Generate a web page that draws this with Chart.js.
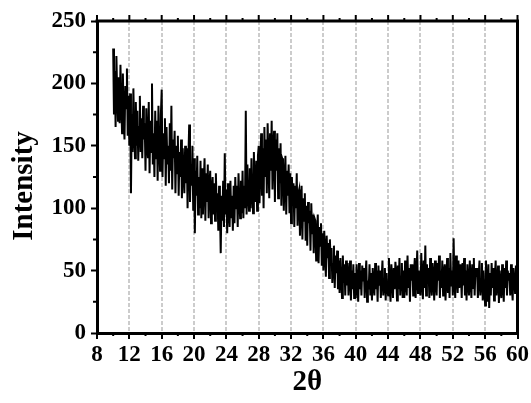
<!DOCTYPE html>
<html>
<head>
<meta charset="utf-8">
<script src="https://cdn.jsdelivr.net/npm/chart.js@4.4.1/dist/chart.umd.min.js"></script>
<style>
  html, body { margin: 0; padding: 0; background: #ffffff; }
  #wrap { width: 531px; height: 403px; }
</style>
</head>
<body>
<div id="wrap"><canvas id="c" width="531" height="403"></canvas></div>
<script>
// ---- Data ----
const angleStart = 10;      // first 2θ value of the scan
const angleStep = 0.1;      // scan step in degrees
const intensity = [
  228, 175, 210, 165, 222, 190, 170, 205, 168, 215,   // 10
  185, 160, 208, 172, 155, 198, 180, 212, 158, 190,   // 11
  150, 192, 112, 175, 145, 196, 160, 140, 185, 150,   // 12
  178, 138, 165, 190, 145, 172, 140, 182, 155, 168,   // 13
  130, 180, 150, 140, 185, 128, 170, 145, 200, 135,   // 14
  160, 125, 178, 140, 170, 122, 182, 150, 130, 175,   // 15
  195, 125, 160, 140, 172, 118, 165, 135, 150, 120,   // 16
  168, 130, 182, 115, 155, 140, 162, 112, 150, 128,   // 17
  158, 110, 145, 125, 155, 108, 148, 130, 112, 150,   // 18
  120, 148, 100, 140, 167, 105, 135, 118, 150, 98,    // 19
  140, 80, 130, 110, 142, 95, 125, 100, 138, 92,      // 20
  132, 95, 120, 140, 90, 128, 105, 135, 92, 118,      // 21
  130, 88, 115, 125, 95, 120, 90, 128, 100, 112,      // 22
  82, 118, 100, 64, 110, 90, 122, 85, 144, 95,        // 23
  115, 80, 120, 98, 85, 122, 92, 110, 82, 118,        // 24
  88, 125, 100, 118, 85, 128, 105, 92, 122, 96,       // 25
  130, 92, 118, 100, 178, 95, 135, 110, 98, 132,      // 26
  100, 140, 115, 96, 145, 120, 105, 138, 98, 142,     // 27
  150, 104, 135, 160, 110, 148, 100, 165, 125, 155,   // 28
  112, 168, 140, 108, 160, 130, 170, 115, 150, 162,   // 29
  105, 155, 130, 160, 108, 148, 120, 152, 102, 140,   // 30
  138, 98, 125, 142, 95, 130, 110, 135, 96, 128,      // 31
  88, 125, 105, 120, 85, 118, 100, 128, 86, 112,      // 32
  115, 78, 100, 118, 75, 108, 90, 112, 74, 102,       // 33
  70, 105, 88, 98, 66, 104, 80, 95, 64, 92,           // 34
  90, 58, 78, 95, 56, 85, 70, 88, 54, 80,             // 35
  50, 82, 65, 45, 78, 60, 72, 44, 75, 55,             // 36
  68, 40, 55, 70, 36, 62, 48, 66, 35, 58,             // 37
  32, 60, 45, 28, 62, 40, 55, 30, 58, 38,             // 38
  56, 30, 45, 58, 26, 50, 35, 55, 28, 48,             // 39
  28, 55, 40, 25, 56, 35, 50, 30, 54, 42,             // 40
  52, 28, 45, 58, 25, 42, 35, 55, 30, 48,             // 41
  26, 52, 40, 30, 56, 35, 50, 25, 54, 38,             // 42
  50, 28, 44, 58, 30, 40, 52, 26, 48, 36,             // 43
  30, 60, 38, 25, 55, 45, 28, 52, 35, 57,             // 44
  48, 26, 54, 35, 60, 30, 45, 56, 28, 50,             // 45
  28, 58, 40, 30, 62, 36, 52, 25, 55, 42,             // 46
  55, 30, 48, 60, 28, 45, 66, 32, 50, 38,             // 47
  30, 64, 42, 27, 58, 36, 70, 30, 55, 40,             // 48
  52, 28, 60, 38, 30, 56, 45, 26, 58, 40,             // 49
  30, 56, 42, 62, 28, 50, 36, 58, 30, 48,             // 50
  55, 26, 45, 60, 32, 52, 28, 64, 38, 50,             // 51
  30, 76, 40, 28, 62, 45, 32, 58, 36, 55,             // 52
  48, 28, 56, 38, 60, 30, 50, 26, 55, 40,             // 53
  30, 58, 42, 28, 55, 36, 60, 30, 52, 45,             // 54
  52, 28, 46, 58, 30, 40, 56, 26, 50, 35,             // 55
  22, 58, 38, 25, 55, 20, 48, 30, 56, 36,             // 56
  52, 26, 45, 58, 30, 40, 54, 24, 50, 35,             // 57
  28, 55, 40, 25, 52, 36, 58, 30, 50, 42,             // 58
  48, 30, 55, 38, 26, 52, 44, 32, 54, 40,             // 59
  45                                                  // 60
];
const xTickLabels = ['8','12','16','20','24','28','32','36','40','44','48','52','56','60'];
const yTickLabels = ['0','50','100','150','200','250'];
const xTitle = '2θ';
const yTitle = 'Intensity';

const points = intensity.map((v, i) => ({ x: +(angleStart + i * angleStep).toFixed(2), y: v }));

const FONT = "'Liberation Serif', 'Times New Roman', serif";

// Frame, minor ticks, top ticks and the rotated y title
const framePlugin = {
  id: 'frame',
  afterDraw(chart) {
    const ctx = chart.ctx;
    const a = chart.chartArea;
    const xs = chart.scales.x, ys = chart.scales.y;
    ctx.save();
    ctx.strokeStyle = '#000';
    ctx.lineCap = 'square';
    ctx.lineWidth = 3;
    ctx.beginPath();
    ctx.moveTo(a.left, a.top); ctx.lineTo(a.right, a.top);
    ctx.moveTo(a.right, a.top); ctx.lineTo(a.right, a.bottom);
    ctx.stroke();
    ctx.lineCap = 'butt';
    ctx.lineWidth = 2;
    ctx.beginPath();
    for (let v = 8; v <= 60; v += 2) {
      const px = xs.getPixelForValue(v);
      const major = (v % 4 === 0);
      if (!major) { ctx.moveTo(px, a.bottom); ctx.lineTo(px, a.bottom + 3); }
      ctx.moveTo(px, a.top); ctx.lineTo(px, a.top - (major ? 6 : 3));
    }
    for (let v = 25; v < 250; v += 50) {
      const py = ys.getPixelForValue(v);
      ctx.moveTo(a.left, py); ctx.lineTo(a.left - 4, py);
    }
    ctx.stroke();
    ctx.fillStyle = '#000';
    ctx.font = "bold 29px " + FONT;
    ctx.textAlign = 'center';
    ctx.textBaseline = 'middle';
    ctx.translate(25, 186);
    ctx.rotate(-Math.PI / 2);
    ctx.fillText(yTitle, 0, 0);
    ctx.restore();
  }
};

new Chart(document.getElementById('c'), {
  type: 'line',
  data: {
    datasets: [{
      data: points,
      borderColor: '#000000',
      borderWidth: 2,
      pointRadius: 0,
      tension: 0,
      fill: false
    }]
  },
  options: {
    responsive: false,
    animation: false,
    layout: { padding: { top: 21, right: 12, left: 0, bottom: 0 } },
    plugins: { legend: { display: false }, tooltip: { enabled: false } },
    scales: {
      x: {
        type: 'linear',
        min: 8, max: 60,
        afterFit: s => { s.height = 70; },
        afterBuildTicks: s => { s.ticks = xTickLabels.map(t => ({ value: +t })); },
        ticks: {
          autoSkip: false,
          maxRotation: 0,
          padding: 2,
          color: '#000',
          font: { family: FONT, size: 23, weight: 'bold' },
          callback: v => String(v)
        },
        grid: {
          display: true,
          drawOnChartArea: true,
          drawTicks: true,
          tickLength: 6,
          tickWidth: 2,
          tickColor: '#000',
          color: ctx => (ctx.tick && (ctx.tick.value === 8 || ctx.tick.value === 60)) ? 'rgba(0,0,0,0)' : '#cccccc',
          lineWidth: 2
        },
        border: { display: true, color: '#000', width: 3, dash: [4, 2] },
        title: {
          display: true,
          text: xTitle,
          color: '#000',
          font: { family: FONT, size: 29, weight: 'bold' },
          padding: { top: 0, bottom: 3 }
        }
      },
      y: {
        type: 'linear',
        min: 0, max: 250,
        afterFit: s => { s.width = 97; },
        afterBuildTicks: s => { s.ticks = yTickLabels.map(t => ({ value: +t })); },
        ticks: {
          padding: 5,
          color: '#000',
          font: { family: FONT, size: 23, weight: 'bold' },
          callback: v => String(v)
        },
        grid: {
          display: true,
          drawOnChartArea: false,
          drawTicks: true,
          tickLength: 6,
          tickWidth: 2,
          tickColor: '#000'
        },
        border: { display: true, color: '#000', width: 3 }
      }
    }
  },
  plugins: [framePlugin]
});
</script>
</body>
</html>
